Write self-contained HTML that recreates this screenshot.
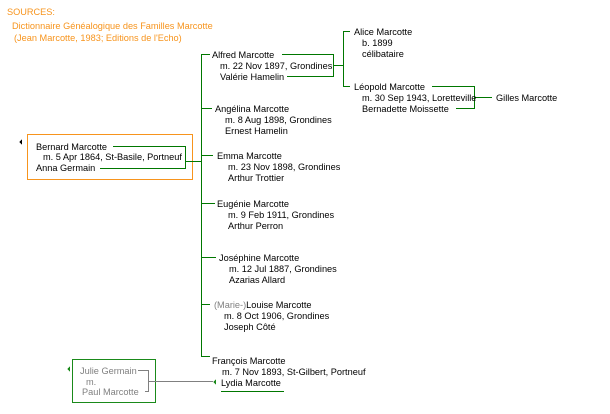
<!DOCTYPE html>
<html><head><meta charset="utf-8"><style>
html,body{margin:0;padding:0;background:#fff;width:610px;height:414px;overflow:hidden}
svg text{font-family:"Liberation Sans",sans-serif;font-size:9.2px;fill:#000}
</style></head><body>
<svg width="610" height="414" xmlns="http://www.w3.org/2000/svg" shape-rendering="crispEdges">
<g fill="none" stroke-width="1">
<rect x="27.5" y="134.5" width="165" height="45" stroke="#f7941d"/>
<rect x="72.5" y="359.5" width="83" height="43" stroke="#1a8a1a"/>
<g stroke="#007700">
<path d="M113 146.5H185.5V168.5H100M185 161.5H201M201.5 54V356M201 54.5H210M201 108.5H212M201 155.5H213M201 203.5H215M201 257.5H216M201 304.5H210M201 356.5H210"/>
<path d="M282 54.5H333.5V76.5H287M333 65.5H343.5M343.5 31V86M343 31.5H350M343 86.5H350"/>
<path d="M432 86.5H474.5V108.5H456M474 97.5H492"/>
<path d="M221 391.5H284"/>
</g>
<g stroke="#808080">
<path d="M138 370.5H148.5V391.5H145M148 381.5H213"/>
</g>
</g>
<path d="M22 139V145L19 142Z" fill="#000"/>
<path d="M70 366V372L67 369Z" fill="#1a8a1a"/>
<path d="M216 379V385L213 382Z" fill="#1a8a1a"/>
<text x="7" y="15" style="fill:#f7941d">SOURCES:</text>
<text x="12" y="29" style="fill:#f7941d">Dictionnaire Généalogique des Familles Marcotte</text>
<text x="14" y="41" style="fill:#f7941d">(Jean Marcotte, 1983; Editions de l'Echo)</text>
<text x="36" y="150">Bernard Marcotte</text>
<text x="43" y="160">m. 5 Apr 1864, St-Basile, Portneuf</text>
<text x="36" y="171">Anna Germain</text>
<text x="212" y="58">Alfred Marcotte</text>
<text x="220" y="69">m. 22 Nov 1897, Grondines</text>
<text x="220" y="80">Valérie Hamelin</text>
<text x="354" y="35">Alice Marcotte</text>
<text x="362" y="46">b. 1899</text>
<text x="362" y="57">célibataire</text>
<text x="354" y="90">Léopold Marcotte</text>
<text x="362" y="101">m. 30 Sep 1943, Loretteville</text>
<text x="362" y="112">Bernadette Moissette</text>
<text x="496" y="101">Gilles Marcotte</text>
<text x="215" y="112">Angélina Marcotte</text>
<text x="225" y="123">m. 8 Aug 1898, Grondines</text>
<text x="225" y="134">Ernest Hamelin</text>
<text x="217" y="159">Emma Marcotte</text>
<text x="228" y="170">m. 23 Nov 1898, Grondines</text>
<text x="228" y="181">Arthur Trottier</text>
<text x="217" y="207">Eugénie Marcotte</text>
<text x="228" y="218">m. 9 Feb 1911, Grondines</text>
<text x="228" y="229">Arthur Perron</text>
<text x="219" y="261">Joséphine Marcotte</text>
<text x="229" y="272">m. 12 Jul 1887, Grondines</text>
<text x="229" y="283">Azarias Allard</text>
<text x="214" y="308"><tspan style="fill:#808080">(Marie-)</tspan>Louise Marcotte</text>
<text x="224" y="319">m. 8 Oct 1906, Grondines</text>
<text x="224" y="330">Joseph Côté</text>
<text x="212" y="364">François Marcotte</text>
<text x="222" y="375">m. 7 Nov 1893, St-Gilbert, Portneuf</text>
<text x="221" y="386">Lydia Marcotte</text>
<text x="80" y="374" style="fill:#808080">Julie Germain</text>
<text x="86" y="385" style="fill:#808080">m.</text>
<text x="82" y="395" style="fill:#808080">Paul Marcotte</text>
</svg>
</body></html>
